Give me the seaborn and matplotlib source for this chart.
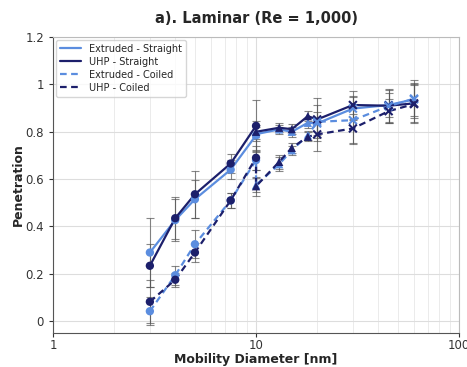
import matplotlib
matplotlib.use("Agg")
import matplotlib.pyplot as plt
import matplotlib.ticker as mticker
import numpy as np
import pandas as pd
import seaborn as sns

# ---- data ----
diam = [3, 4, 5, 7.5, 10, 10, 13, 15, 18, 20, 30, 45, 60]
series_names = ["Extruded - Straight", "UHP - Straight", "Extruded - Coiled", "UHP - Coiled"]
ext_straight = [0.290, 0.427, 0.515, 0.640, 0.785, 0.790, 0.810, 0.800, 0.838, 0.835, 0.898, 0.913, 0.937]
ext_straight_err = [0.145, 0.09, 0.08, 0.04, 0.06, 0.03, 0.02, 0.02, 0.02, 0.05, 0.05, 0.05, 0.07]
uhp_straight = [0.234, 0.435, 0.536, 0.666, 0.825, 0.800, 0.817, 0.811, 0.866, 0.852, 0.913, 0.910, 0.920]
uhp_straight_err = [0.09, 0.09, 0.10, 0.04, 0.11, 0.03, 0.02, 0.02, 0.02, 0.09, 0.06, 0.07, 0.08]
ext_coiled = [0.042, 0.194, 0.325, 0.510, 0.680, 0.575, 0.663, 0.722, 0.785, 0.842, 0.849, 0.908, 0.940]
ext_coiled_err = [0.06, 0.04, 0.06, 0.03, 0.04, 0.03, 0.03, 0.02, 0.02, 0.07, 0.10, 0.07, 0.08]
uhp_coiled = [0.082, 0.175, 0.290, 0.510, 0.690, 0.570, 0.673, 0.732, 0.779, 0.789, 0.814, 0.887, 0.917]
uhp_coiled_err = [0.09, 0.03, 0.04, 0.03, 0.05, 0.04, 0.03, 0.02, 0.02, 0.07, 0.06, 0.05, 0.08]
instrument = ["A"] * 5 + ["B"] * 4 + ["C"] * 4

values = [ext_straight, uhp_straight, ext_coiled, uhp_coiled]
errors = [ext_straight_err, uhp_straight_err, ext_coiled_err, uhp_coiled_err]

rows = []
for name, vals, errs in zip(series_names, values, errors):
    for i, (d, v, e) in enumerate(zip(diam, vals, errs)):
        rows.append({"series": name, "diam": d, "pen": v, "err": e,
                     "inst": instrument[i], "order": i})
df = pd.DataFrame(rows)

# ---- style ----
sns.set_style("whitegrid")
plt.rcParams['font.family'] = ['DejaVu Sans']

light = "#5b8ddf"
dark = "#1c1f6b"
palette = {series_names[0]: light, series_names[1]: dark,
           series_names[2]: light, series_names[3]: dark}
dashes = {series_names[0]: "", series_names[1]: "",
          series_names[2]: (3, 2), series_names[3]: (3, 2)}
marker_for = {"A": "o", "B": "^", "C": "x"}

fig = plt.figure(figsize=(4.67, 3.67), dpi=100)
ax = fig.add_axes([0.1135, 0.0926, 0.8695, 0.8064])

# error bars
for name in series_names:
    sub = df[df.series == name]
    ax.errorbar(sub.diam, sub.pen, yerr=sub.err, fmt="none",
                ecolor="#555555", elinewidth=0.8, capsize=3, capthick=0.8,
                alpha=0.7, zorder=2)

sns.lineplot(data=df, x="diam", y="pen", hue="series", style="series",
             palette=palette, dashes=dashes, estimator=None, sort=False,
             linewidth=1.6, ax=ax, zorder=3)

for inst, mk in marker_for.items():
    sub = df[df.inst == inst]
    if mk == "x":
        sns.scatterplot(data=sub, x="diam", y="pen", hue="series", palette=palette,
                        marker=mk, s=32, linewidth=1.5, legend=False, ax=ax, zorder=4)
    else:
        sns.scatterplot(data=sub, x="diam", y="pen", hue="series", palette=palette,
                        marker=mk, s=36, edgecolor="none", legend=False, ax=ax, zorder=4)

ax.set_xscale("log")
ax.set_xlim(1, 100)
ax.set_ylim(-0.05, 1.2)
ax.set_yticks([0, 0.2, 0.4, 0.6, 0.8, 1.0, 1.2])
ax.yaxis.set_major_formatter(mticker.FuncFormatter(lambda v, p: f"{v:g}"))
ax.xaxis.set_major_formatter(mticker.FuncFormatter(lambda v, p: f"{v:g}"))
ax.xaxis.set_minor_locator(mticker.LogLocator(base=10, subs=np.arange(2, 10)))
ax.xaxis.set_minor_formatter(mticker.NullFormatter())
ax.grid(True, which="major", color="#dddddd", linewidth=0.8)
ax.grid(True, which="minor", color="#e8e8e8", linewidth=0.6)
ax.tick_params(axis="both", which="both", labelsize=8.5, colors="#333333", length=3)
ax.tick_params(axis="x", which="both", pad=1)
ax.tick_params(axis="x", which="minor", length=2)
ax.tick_params(bottom=True, left=True)
for sp in ["left", "bottom"]:
    ax.spines[sp].set_color("#555555")
for sp in ["top", "right"]:
    ax.spines[sp].set_color("#bbbbbb")

ax.set_xlabel("Mobility Diameter [nm]", fontsize=9, fontweight="bold", labelpad=1)
ax.set_ylabel("Penetration", fontsize=9, fontweight="bold", labelpad=0)
ax.set_title("a). Laminar (Re = 1,000)", fontsize=10.5, fontweight="bold", pad=10)

leg = ax.legend(loc="upper left", fontsize=7, frameon=True, handlelength=2.2,
                borderaxespad=0.3, labelspacing=0.3)
leg.get_frame().set_edgecolor("#cccccc")
for line in leg.get_lines():
    line.set_linewidth(1.6)

fig.savefig("out.png", dpi=100)
